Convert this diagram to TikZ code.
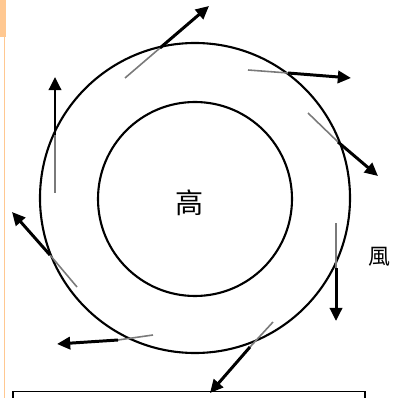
\documentclass[tikz,border=0pt]{standalone}
\usepackage{fontspec}
\newfontfamily\cjk{Noto Sans CJK TC}
\usetikzlibrary{arrows.meta}
\definecolor{orangestrip}{HTML}{FFC891}
\definecolor{tangentgrey}{HTML}{7A7A7A}
\tikzset{
  ring/.style={draw=black, line width=1.2pt, circle, inner sep=0pt},
  tangent/.style={draw=tangentgrey, line width=0.9pt},
  wind/.style={draw=black, line width=1.7pt, -{Triangle[length=7.5pt,width=7pt]}},
}
\begin{document}
\begin{tikzpicture}[x=0.02cm, y=-0.02cm]
\useasboundingbox (0,0) rectangle (392,398);
\clip (0,0) rectangle (392,398);
% orange page marks
\fill[orangestrip] (0,0) rectangle (5.5,37);
\draw[orangestrip, line width=0.8pt] (4.5,37) -- (4.5,398);
% circles
\node[ring, minimum size=310*0.02cm] (outer) at (195,198) {};
\node[ring, minimum size=194*0.02cm] (inner) at (195,199) {};
\node[font=\cjk\fontsize{16}{16}\selectfont] (high) at (190,203) {高};
\node[font=\cjk\fontsize{12.5}{12.5}\selectfont, anchor=east, inner sep=0pt] (wind) at (391,257) {風};
% bottom box
\draw[line width=0.9pt] (13,420) -- (13,391.5) -- (365,391.5) -- (365,420);
% arrows: grey tangent then black arrow
\coordinate (a1s) at (125,78); \coordinate (a1m) at (160,48); \coordinate (a1e) at (209,6);
\coordinate (a2s) at (248,70); \coordinate (a2m) at (288,73); \coordinate (a2e) at (351,78);
\coordinate (a3s) at (308,113); \coordinate (a3m) at (338,142); \coordinate (a3e) at (378,176);
\coordinate (a4s) at (336,223); \coordinate (a4m) at (336,268); \coordinate (a4e) at (336,321);
\coordinate (a5s) at (273,322); \coordinate (a5m) at (250,347); \coordinate (a5e) at (210,393);
\coordinate (a6s) at (153,335); \coordinate (a6m) at (118,340); \coordinate (a6e) at (57,344);
\coordinate (a7s) at (77,287); \coordinate (a7m) at (50,255); \coordinate (a7e) at (12,212);
\coordinate (a8s) at (55,193); \coordinate (a8m) at (55,135); \coordinate (a8e) at (55,77);
\foreach \i in {1,...,8}{
  \draw[tangent] (a\i s) -- (a\i m);
  \draw[wind] (a\i m) -- (a\i e);
}
\end{tikzpicture}
\end{document}
